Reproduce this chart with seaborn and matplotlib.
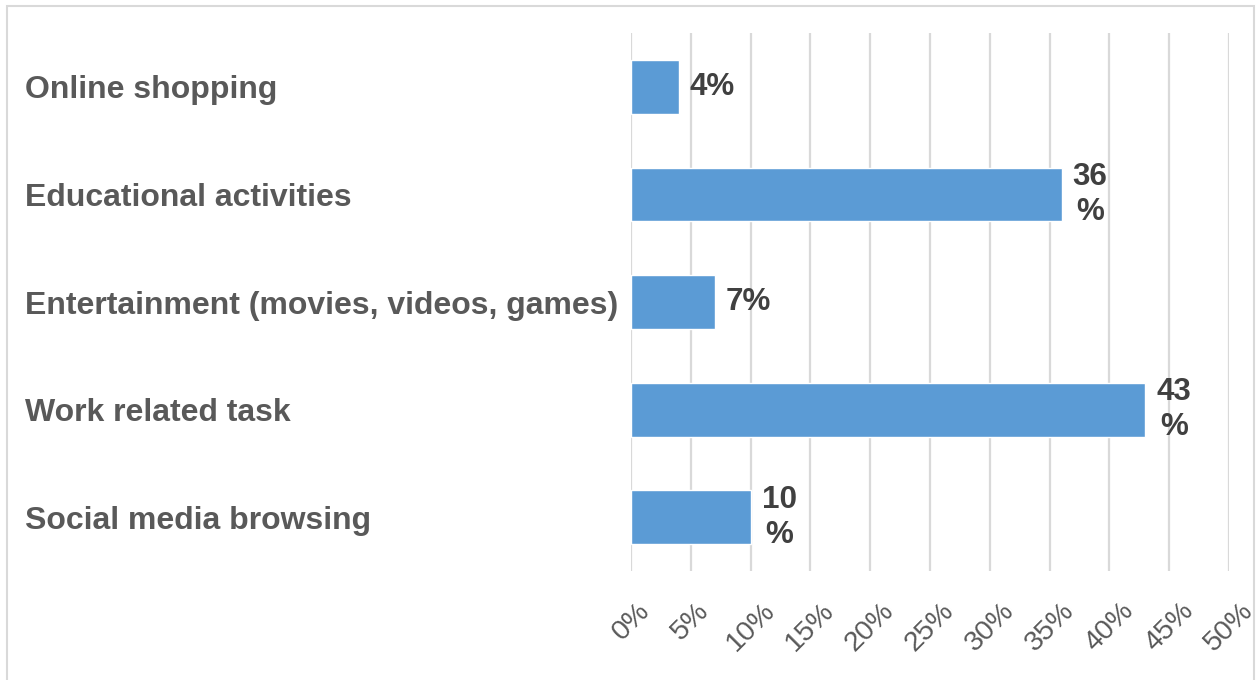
import matplotlib
matplotlib.use("Agg")
import matplotlib.pyplot as plt
import matplotlib.patches as mpatches
import seaborn as sns
import pandas as pd

# Share of respondents by main purpose of use
categories = [
    "Online shopping",
    "Educational activities",
    "Entertainment (movies, videos, games)",
    "Work related task",
    "Social media browsing",
]
shares = [4, 36, 7, 43, 10]
x_ticks = list(range(0, 51, 5))
x_tick_labels = [f"{t}%" for t in x_ticks]

BAR_COLOR = "#5B9BD5"
GRID_COLOR = "#D9D9D9"
LABEL_COLOR = "#595959"
VALUE_COLOR = "#404040"

sns.set_theme(style="white")
plt.rcParams["font.family"] = ["Liberation Sans", "DejaVu Sans"]

df = pd.DataFrame({"category": categories, "share": shares})

fig = plt.figure(figsize=(12.57, 6.8), dpi=100)
ax = fig.add_axes([631 / 1257, 1 - 571 / 680, (1229 - 631) / 1257, (571 - 33) / 680])

sns.barplot(data=df, x="share", y="category", orient="h", color=BAR_COLOR,
            width=0.5, saturation=1, ax=ax, zorder=3)

ax.set_xlim(0, 50)
ax.set_xticks(x_ticks)
ax.set_xticklabels(x_tick_labels, rotation=45, ha="center", va="top",
                   fontsize=20.5, color=LABEL_COLOR)
ax.tick_params(axis="x", length=0, pad=19)
ax.set_xlabel("")
ax.set_ylabel("")

# category names left-aligned near the figure edge
ax.tick_params(axis="y", length=0, pad=(631 - 25) * 0.72)
for lbl in ax.get_yticklabels():
    lbl.set_horizontalalignment("left")
    lbl.set_fontsize(23)
    lbl.set_fontweight("bold")
    lbl.set_color(LABEL_COLOR)

ax.grid(axis="x", color=GRID_COLOR, linewidth=1.6, zorder=0)
ax.grid(axis="y", visible=False)
ax.set_axisbelow(True)
for s in ax.spines.values():
    s.set_visible(False)

# value labels to the right of each bar
for i, v in enumerate(shares):
    text = f"{v}%" if v < 10 else f"{v}\n%"
    ax.annotate(text, xy=(v, i), xytext=(8, 0), textcoords="offset points",
                ha="left", va="center", multialignment="center",
                fontsize=22.6, fontweight="bold", color=VALUE_COLOR,
                linespacing=1.2)

# light frame around the chart area
fig.patches.append(mpatches.Rectangle(
    (7 / 1257, -0.02), (1254 - 7) / 1257, 1.02 - 6 / 680,
    transform=fig.transFigure, fill=False, edgecolor=GRID_COLOR, linewidth=1.5))

fig.savefig("out.png", dpi=100)
